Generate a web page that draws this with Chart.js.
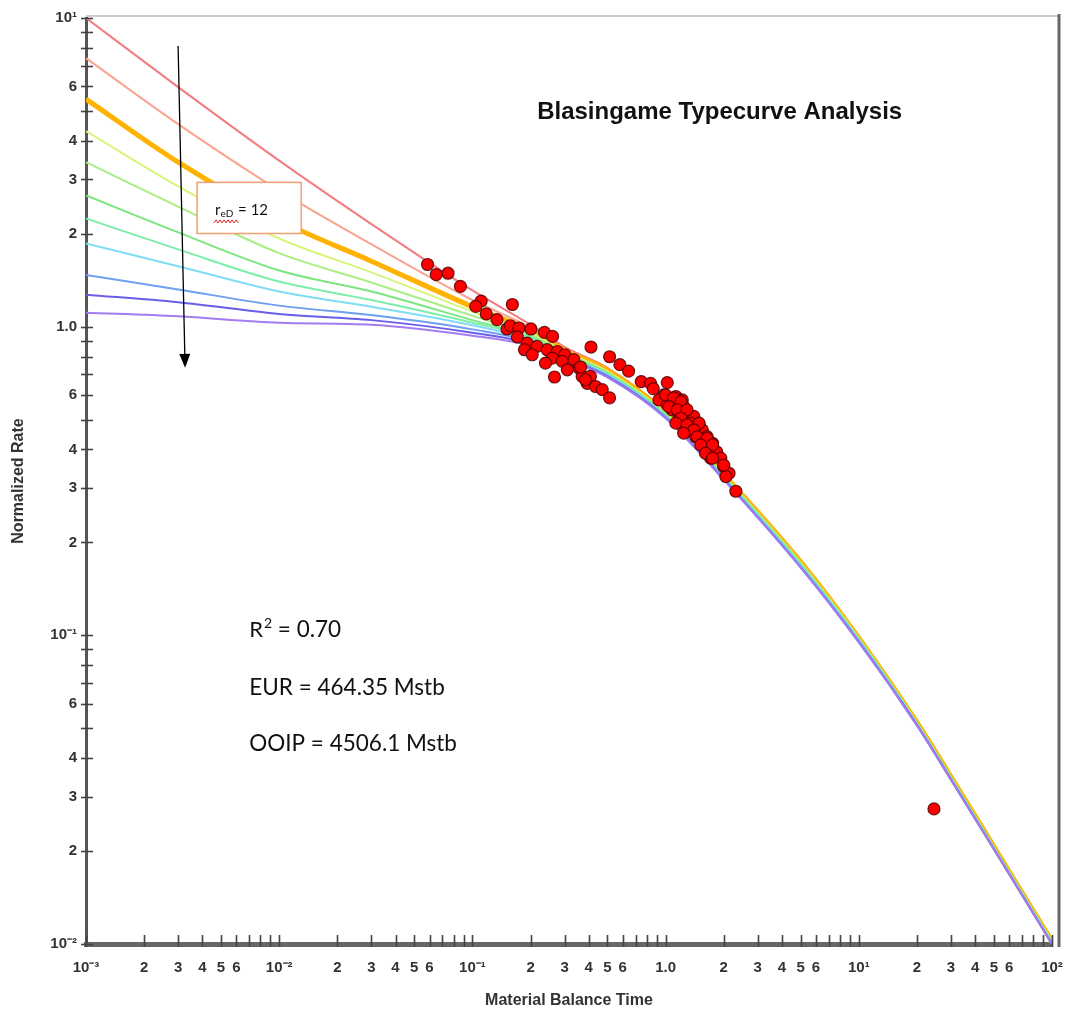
<!DOCTYPE html>
<html>
<head>
<meta charset="utf-8">
<title>Blasingame Typecurve Analysis</title>
<script src="https://cdn.jsdelivr.net/npm/chart.js@4.4.1/dist/chart.umd.min.js"></script>
<style>
  html, body { margin: 0; padding: 0; background: #fff; }
  #wrap { width: 1070px; height: 1014px; }
</style>
</head>
<body>
<div id="wrap"><canvas id="chart" width="1070" height="1014"></canvas></div>
<script>
// Material balance time samples shared by every type curve
const curveTime = [0.001, 0.003, 0.01, 0.03, 0.1, 0.2, 0.3, 0.5, 1, 2, 5, 10, 20, 30, 50, 100];

// Normalized rate of each type curve (top stem to bottom stem)
const curveRed    = [10.0, 5.97, 3.45, 2.15, 1.31,  1.015, 0.860, 0.735, 0.532, 0.335, 0.175, 0.099, 0.0525, 0.0350, 0.0208, 0.0103];
const curveSalmon = [7.41, 4.53, 2.76, 1.85, 1.22,  0.993, 0.848, 0.728, 0.530, 0.333, 0.174, 0.099, 0.0524, 0.0349, 0.0208, 0.0103];
const curveOrange = [5.46, 3.41, 2.21, 1.63, 1.16,  0.971, 0.838, 0.722, 0.527, 0.332, 0.173, 0.098, 0.0522, 0.0348, 0.0207, 0.0102];
const curveLime   = [4.30, 2.85, 1.93, 1.50, 1.12,  0.956, 0.830, 0.716, 0.524, 0.330, 0.172, 0.098, 0.0521, 0.0347, 0.0206, 0.0102];
const curveLight  = [3.41, 2.45, 1.73, 1.39, 1.085, 0.942, 0.823, 0.711, 0.521, 0.328, 0.171, 0.097, 0.0519, 0.0346, 0.0206, 0.0102];
const curveGreen  = [2.66, 2.02, 1.52, 1.30, 1.05,  0.928, 0.816, 0.706, 0.518, 0.327, 0.170, 0.097, 0.0518, 0.0345, 0.0205, 0.0101];
const curveMint   = [2.24, 1.78, 1.40, 1.22, 1.03,  0.921, 0.810, 0.702, 0.515, 0.325, 0.169, 0.097, 0.0516, 0.0344, 0.0205, 0.0101];
const curveCyan   = [1.86, 1.57, 1.30, 1.16, 1.01,  0.907, 0.804, 0.698, 0.512, 0.323, 0.168, 0.096, 0.0515, 0.0343, 0.0204, 0.0101];
const curveBlue   = [1.47, 1.32, 1.17, 1.09, 0.98,  0.894, 0.798, 0.694, 0.510, 0.322, 0.167, 0.096, 0.0513, 0.0342, 0.0204, 0.0100];
const curveIndigo = [1.27, 1.20, 1.10, 1.05, 0.956, 0.881, 0.792, 0.689, 0.507, 0.320, 0.166, 0.095, 0.0512, 0.0341, 0.0203, 0.0100];
const curvePurple = [1.11, 1.08, 1.03, 1.015, 0.935, 0.868, 0.786, 0.685, 0.505, 0.319, 0.166, 0.095, 0.0510, 0.0340, 0.0203, 0.0100];

// Production data (material balance time, normalized rate)
const dataTime = [0.0586, 0.0650, 0.0748, 0.0867, 0.111, 0.104, 0.161, 0.118, 0.134, 0.151,
  0.157, 0.174, 0.201, 0.171, 0.236, 0.260, 0.192, 0.186, 0.216, 0.204,
  0.244, 0.275, 0.301, 0.259, 0.335, 0.239, 0.292, 0.356, 0.310, 0.266,
  0.411, 0.513, 0.580, 0.643, 0.370, 0.408, 0.393, 0.434, 0.470, 0.513,
  0.748, 0.836, 0.863, 1.02, 0.979, 0.923, 1.13, 1.22, 1.02, 1.08,
  1.24, 1.17, 1.29, 1.40, 1.22, 1.35, 1.49, 1.29, 1.55, 1.43,
  1.64, 1.55, 1.75, 1.61, 1.84, 1.71, 1.93, 2.00, 2.13, 2.05,
  2.31, 0.385, 1.00, 1.10, 1.20, 1.04, 1.15, 1.29, 1.20, 1.13,
  1.29, 1.49, 1.40, 1.24, 1.46, 1.64, 1.52, 1.75, 1.61, 1.75,
  2.00, 0.363, 24.5];
const dataRate = [1.59, 1.475, 1.49, 1.35, 1.21, 1.164, 1.18, 1.10, 1.054, 0.983,
  1.007, 0.990, 0.983, 0.926, 0.958, 0.930, 0.885, 0.842, 0.863, 0.811,
  0.842, 0.831, 0.811, 0.791, 0.782, 0.762, 0.772, 0.734, 0.725, 0.687,
  0.859, 0.799, 0.753, 0.718, 0.690, 0.690, 0.655, 0.640, 0.625, 0.588,
  0.664, 0.655, 0.630, 0.659, 0.601, 0.579, 0.594, 0.579, 0.558, 0.538,
  0.551, 0.518, 0.525, 0.512, 0.493, 0.487, 0.481, 0.457, 0.463, 0.440,
  0.440, 0.414, 0.419, 0.393, 0.393, 0.375, 0.375, 0.352, 0.335, 0.327,
  0.293, 0.673, 0.601, 0.588, 0.572, 0.551, 0.538, 0.538, 0.505, 0.487,
  0.481, 0.487, 0.463, 0.452, 0.440, 0.435, 0.414, 0.414, 0.389, 0.375,
  0.356, 0.740, 0.0274];

// Tick labels
const xDecades = [-3, -2, -1, 0, 1, 2];
const xDecadeLabels = ['10\u207B\u00B3', '10\u207B\u00B2', '10\u207B\u00B9', '1.0', '10\u00B9', '10\u00B2'];
const xMinorLabels = ['2', '3', '4', '5', '6'];
const yDecades = [-2, -1, 0, 1];
const yDecadeLabels = ['10\u207B\u00B2', '10\u207B\u00B9', '1.0', '10\u00B9'];
const yMinorLabels = ['2', '3', '4', '6'];

// purple first so it sits on top of the bundle at late time
const curveList = [
  { values: curvePurple, color: '#a47cf2', width: 2 },
  { values: curveIndigo, color: '#6a5ee6', width: 2 },
  { values: curveBlue, color: '#6f9ff0', width: 2 },
  { values: curveCyan, color: '#7fdcf5', width: 2 },
  { values: curveMint, color: '#7cedaa', width: 2 },
  { values: curveGreen, color: '#7be57f', width: 2 },
  { values: curveLight, color: '#a9ee84', width: 2 },
  { values: curveLime, color: '#d6f57c', width: 2 },
  { values: curveOrange, color: '#ffb300', width: 5 },
  { values: curveSalmon, color: '#f9a48e', width: 2 },
  { values: curveRed, color: '#f27c80', width: 2 }
];

function buildLogTicks(decades, decadeLabels, minorLabels) {
  const ticks = [];
  decades.forEach((d, i) => {
    const base = Math.pow(10, d);
    ticks.push({ value: base, text: decadeLabels[i] });
    if (i === decades.length - 1) return;
    for (let m = 2; m <= 9; m++) {
      ticks.push({ value: m * base, text: minorLabels.includes(String(m)) ? String(m) : '' });
    }
  });
  return ticks;
}

const xTicks = buildLogTicks(xDecades, xDecadeLabels, xMinorLabels);
const yTicks = buildLogTicks(yDecades, yDecadeLabels, yMinorLabels);

const labelFont = { family: "'Liberation Sans', Arial, sans-serif", size: 15, weight: 'bold' };
const axisTitleFont = { family: "'Liberation Sans', Arial, sans-serif", size: 16, weight: 'bold' };

function line(ctx, x1, y1, x2, y2) {
  ctx.beginPath();
  ctx.moveTo(x1, y1);
  ctx.lineTo(x2, y2);
  ctx.stroke();
}

// Frame, tick marks crossing the axes
const axisDecor = {
  id: 'axisDecor',
  afterDatasetsDraw(chart) {
    const { ctx, chartArea: a, scales: { x, y } } = chart;
    ctx.save();
    ctx.strokeStyle = '#cdcdcd';
    ctx.lineWidth = 2;
    line(ctx, a.left, a.top - 2, a.right + 7, a.top - 2);
    ctx.strokeStyle = '#666';
    ctx.lineWidth = 3;
    line(ctx, a.right + 7, a.top - 4, a.right + 7, a.bottom + 3);

    ctx.strokeStyle = '#444';
    ctx.lineWidth = 1.6;
    y.ticks.forEach(t => {
      const py = Math.round(y.getPixelForValue(t.value)) + 0.5;
      line(ctx, a.left - 5, py, a.left + 7, py);
    });
    x.ticks.forEach(t => {
      const px = Math.round(x.getPixelForValue(t.value)) + 0.5;
      line(ctx, px, a.bottom + 3, px, a.bottom - 9);
    });
    ctx.restore();
  }
};

// Title, arrow, r_eD box and fit results
const annotations = {
  id: 'annotations',
  afterDraw(chart) {
    const { ctx, scales: { x, y } } = chart;
    const px = v => x.getPixelForValue(v);
    const py = v => y.getPixelForValue(v);
    ctx.save();

    // title
    ctx.fillStyle = '#111';
    ctx.font = "bold 24px 'Liberation Sans', Arial, sans-serif";
    ctx.textAlign = 'center';
    ctx.textBaseline = 'alphabetic';
    ctx.fillText('Blasingame Typecurve Analysis', px(1.905), py(4.70));

    // arrow through the stems
    const x1 = px(0.002997), y1 = py(8.11);
    const x2 = px(0.003258), y2 = py(0.736);
    const len = Math.hypot(x2 - x1, y2 - y1);
    const ux = (x2 - x1) / len, uy = (y2 - y1) / len;
    ctx.strokeStyle = '#000';
    ctx.lineWidth = 1.3;
    line(ctx, x1, y1, x2 - ux * 12, y2 - uy * 12);
    ctx.fillStyle = '#000';
    ctx.beginPath();
    ctx.moveTo(x2, y2);
    ctx.lineTo(x2 - ux * 14 - uy * 5.5, y2 - uy * 14 + ux * 5.5);
    ctx.lineTo(x2 - ux * 14 + uy * 5.5, y2 - uy * 14 - ux * 5.5);
    ctx.closePath();
    ctx.fill();

    // r_eD box
    const bx1 = px(0.003758), bx2 = px(0.0130), by1 = py(2.934), by2 = py(2.004);
    ctx.fillStyle = '#fff';
    ctx.fillRect(bx1, by1, bx2 - bx1, by2 - by1);
    ctx.strokeStyle = '#f0a070';
    ctx.lineWidth = 1.5;
    ctx.strokeRect(bx1, by1, bx2 - bx1, by2 - by1);
    const tx = px(0.004656), ty = py(2.293);
    ctx.fillStyle = '#111';
    ctx.textAlign = 'left';
    ctx.font = "15px Lato, 'Open Sans', sans-serif";
    ctx.fillText('r', tx, ty);
    const cx = tx + ctx.measureText('r').width;
    ctx.font = "10px Lato, 'Open Sans', sans-serif";
    ctx.fillText('eD', cx, ty + 2);
    const subW = ctx.measureText('eD').width;
    ctx.font = "15px Lato, 'Open Sans', sans-serif";
    ctx.fillText(' = 12', cx + subW + 1, ty);
    // spell-check squiggle
    ctx.strokeStyle = '#e02020';
    ctx.lineWidth = 1;
    ctx.beginPath();
    for (let i = 0; i <= 12; i++) {
      const sx = tx - 1 + i * 2;
      const sy = ty + 6 + (i % 2 ? -1.5 : 1.5);
      if (i === 0) ctx.moveTo(sx, sy); else ctx.lineTo(sx, sy);
    }
    ctx.stroke();

    // fit results
    ctx.fillStyle = '#111';
    ctx.font = "22px Lato, 'Open Sans', sans-serif";
    const rx = px(0.0070);
    ctx.fillText('R', rx, py(0.0985));
    const rw = ctx.measureText('R').width;
    ctx.font = "14px Lato, 'Open Sans', sans-serif";
    ctx.fillText('2', rx + rw + 1, py(0.0985) - 9);
    ctx.font = "22.5px Lato, 'Open Sans', sans-serif";
    ctx.fillText(' = 0.70', rx + rw + 9, py(0.0985));
    ctx.fillText('EUR = 464.35 Mstb', rx, py(0.0639));
    ctx.fillText('OOIP = 4506.1 Mstb', rx, py(0.0423));
    ctx.restore();
  }
};

const datasets = [{
  label: 'Data',
  data: dataTime.map((t, i) => ({ x: t, y: dataRate[i] })),
  showLine: false,
  pointRadius: 6,
  pointBackgroundColor: '#ff0000',
  pointBorderColor: 'rgba(80, 0, 0, 0.85)',
  pointBorderWidth: 1.2,
  order: 0
}];

curveList.forEach((c, k) => {
  datasets.push({
    label: 'Curve ' + (k + 1),
    data: curveTime.map((t, i) => ({ x: t, y: c.values[i] })),
    showLine: true,
    pointRadius: 0,
    borderColor: c.color,
    borderWidth: c.width,
    cubicInterpolationMode: 'monotone',
    fill: false,
    order: k + 1
  });
});

new Chart(document.getElementById('chart'), {
  type: 'scatter',
  data: { datasets },
  options: {
    responsive: false,
    animation: false,
    devicePixelRatio: 1,
    layout: { padding: { top: 18, right: 18, left: 0, bottom: 0 } },
    plugins: { legend: { display: false }, tooltip: { enabled: false } },
    scales: {
      x: {
        type: 'logarithmic',
        min: 0.001,
        max: 100,
        afterBuildTicks: s => { s.ticks = xTicks.map(t => ({ value: t.value })); },
        afterFit: s => { s.height = 70; s.paddingLeft = 0; s.paddingRight = 0; },
        grid: { display: false, drawTicks: false },
        border: { display: true, color: '#666', width: 5 },
        ticks: {
          autoSkip: false,
          maxRotation: 0,
          padding: 15,
          color: '#333',
          font: labelFont,
          callback: (v, i) => xTicks[i].text
        },
        title: {
          display: true,
          text: 'Material Balance Time',
          color: '#333',
          font: axisTitleFont,
          padding: { top: 0, bottom: 4 }
        }
      },
      y: {
        type: 'logarithmic',
        min: 0.01,
        max: 10,
        afterBuildTicks: s => { s.ticks = yTicks.map(t => ({ value: t.value })); },
        afterFit: s => { s.width = 86; },
        grid: { display: false, drawTicks: false },
        border: { display: true, color: '#555', width: 3 },
        ticks: {
          autoSkip: false,
          padding: 9,
          color: '#333',
          font: labelFont,
          callback: (v, i) => yTicks[i].text
        },
        title: {
          display: true,
          text: 'Normalized Rate',
          color: '#333',
          font: axisTitleFont,
          padding: { top: 9, bottom: 0 }
        }
      }
    }
  },
  plugins: [axisDecor, annotations]
});
</script>
</body>
</html>
